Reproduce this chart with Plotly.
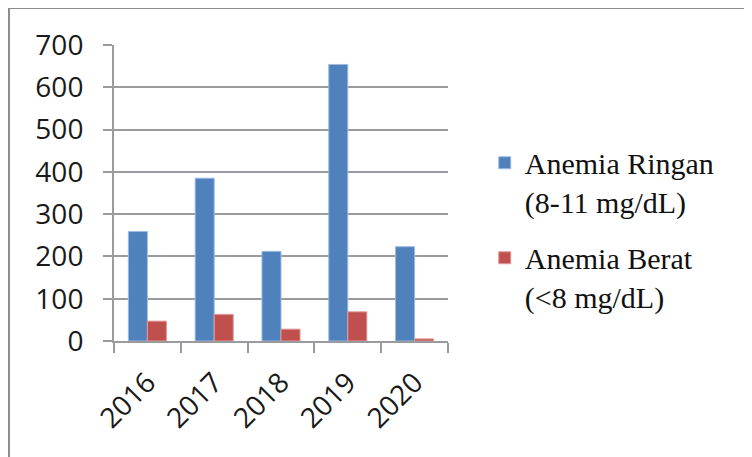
import plotly.graph_objects as go

years = ["2016", "2017", "2018", "2019", "2020"]
ringan = [259, 385, 212, 654, 223]
berat = [47, 63, 28, 69, 5]
names = ["Anemia Ringan<br>(8-11 mg/dL)", "Anemia Berat<br>(<8 mg/dL)"]
colors = ["#4F81BD", "#C0504D"]

fig = go.Figure()
fig.add_trace(go.Bar(x=years, y=ringan, name=names[0], marker_color=colors[0],
                     legendgroup="a",
                     marker_line=dict(color="#9dbbe0", width=1)))
fig.add_trace(go.Bar(x=years, y=berat, name=names[1], marker_color=colors[1],
                     legendgroup="b",
                     marker_line=dict(color="#e09a98", width=1)))

# page body has an 8px margin: compensate so the plot sits where the reference has it
L, T = 106, 37
PW, PH = 334, 296
grid = "#9b9b9f"
fig.update_layout(
    width=752, height=457,
    margin=dict(l=L, r=752 - L - PW, t=T, b=457 - T - PH, autoexpand=False),
    paper_bgcolor="white", plot_bgcolor="white",
    barmode="group", bargap=0.43, bargroupgap=0,
    showlegend=True,
    legend=dict(x=1.11, y=0.69, xanchor="left", yanchor="top", valign="top",
                font=dict(family="Liberation Serif", size=30, color="#111"),
                tracegroupgap=14, traceorder="grouped", bgcolor="rgba(0,0,0,0)"),
    font=dict(family="Open Sans", size=28, color="#1a1a1a"),
)
fig.update_yaxes(range=[0, 700], dtick=100, showgrid=True, gridcolor=grid, gridwidth=2,
                 showline=True, linecolor=grid, linewidth=2, automargin=False,
                 ticks="outside", ticklen=9, tickcolor=grid, tickwidth=2,
                 ticklabelstandoff=14, zeroline=False,
                 tickfont=dict(family="Open Sans", size=28, color="#1a1a1a"))
fig.update_xaxes(showline=True, linecolor=grid, linewidth=2, automargin=False,
                 ticks="outside", tickson="boundaries", ticklen=10, tickcolor=grid, tickwidth=2,
                 tickangle=-45, showgrid=False, ticklabelstandoff=12,
                 tickfont=dict(family="Open Sans", size=28, color="#1a1a1a"))

fig.add_shape(type="rect", xref="paper", yref="paper",
              x0=(9 - 114) / PW, x1=2.0, y0=-1.0, y1=1 + (44 - 7) / PH,
              line=dict(color="#8c8c8c", width=2), fillcolor="rgba(0,0,0,0)", layer="below")

fig.write_html("out.html")
